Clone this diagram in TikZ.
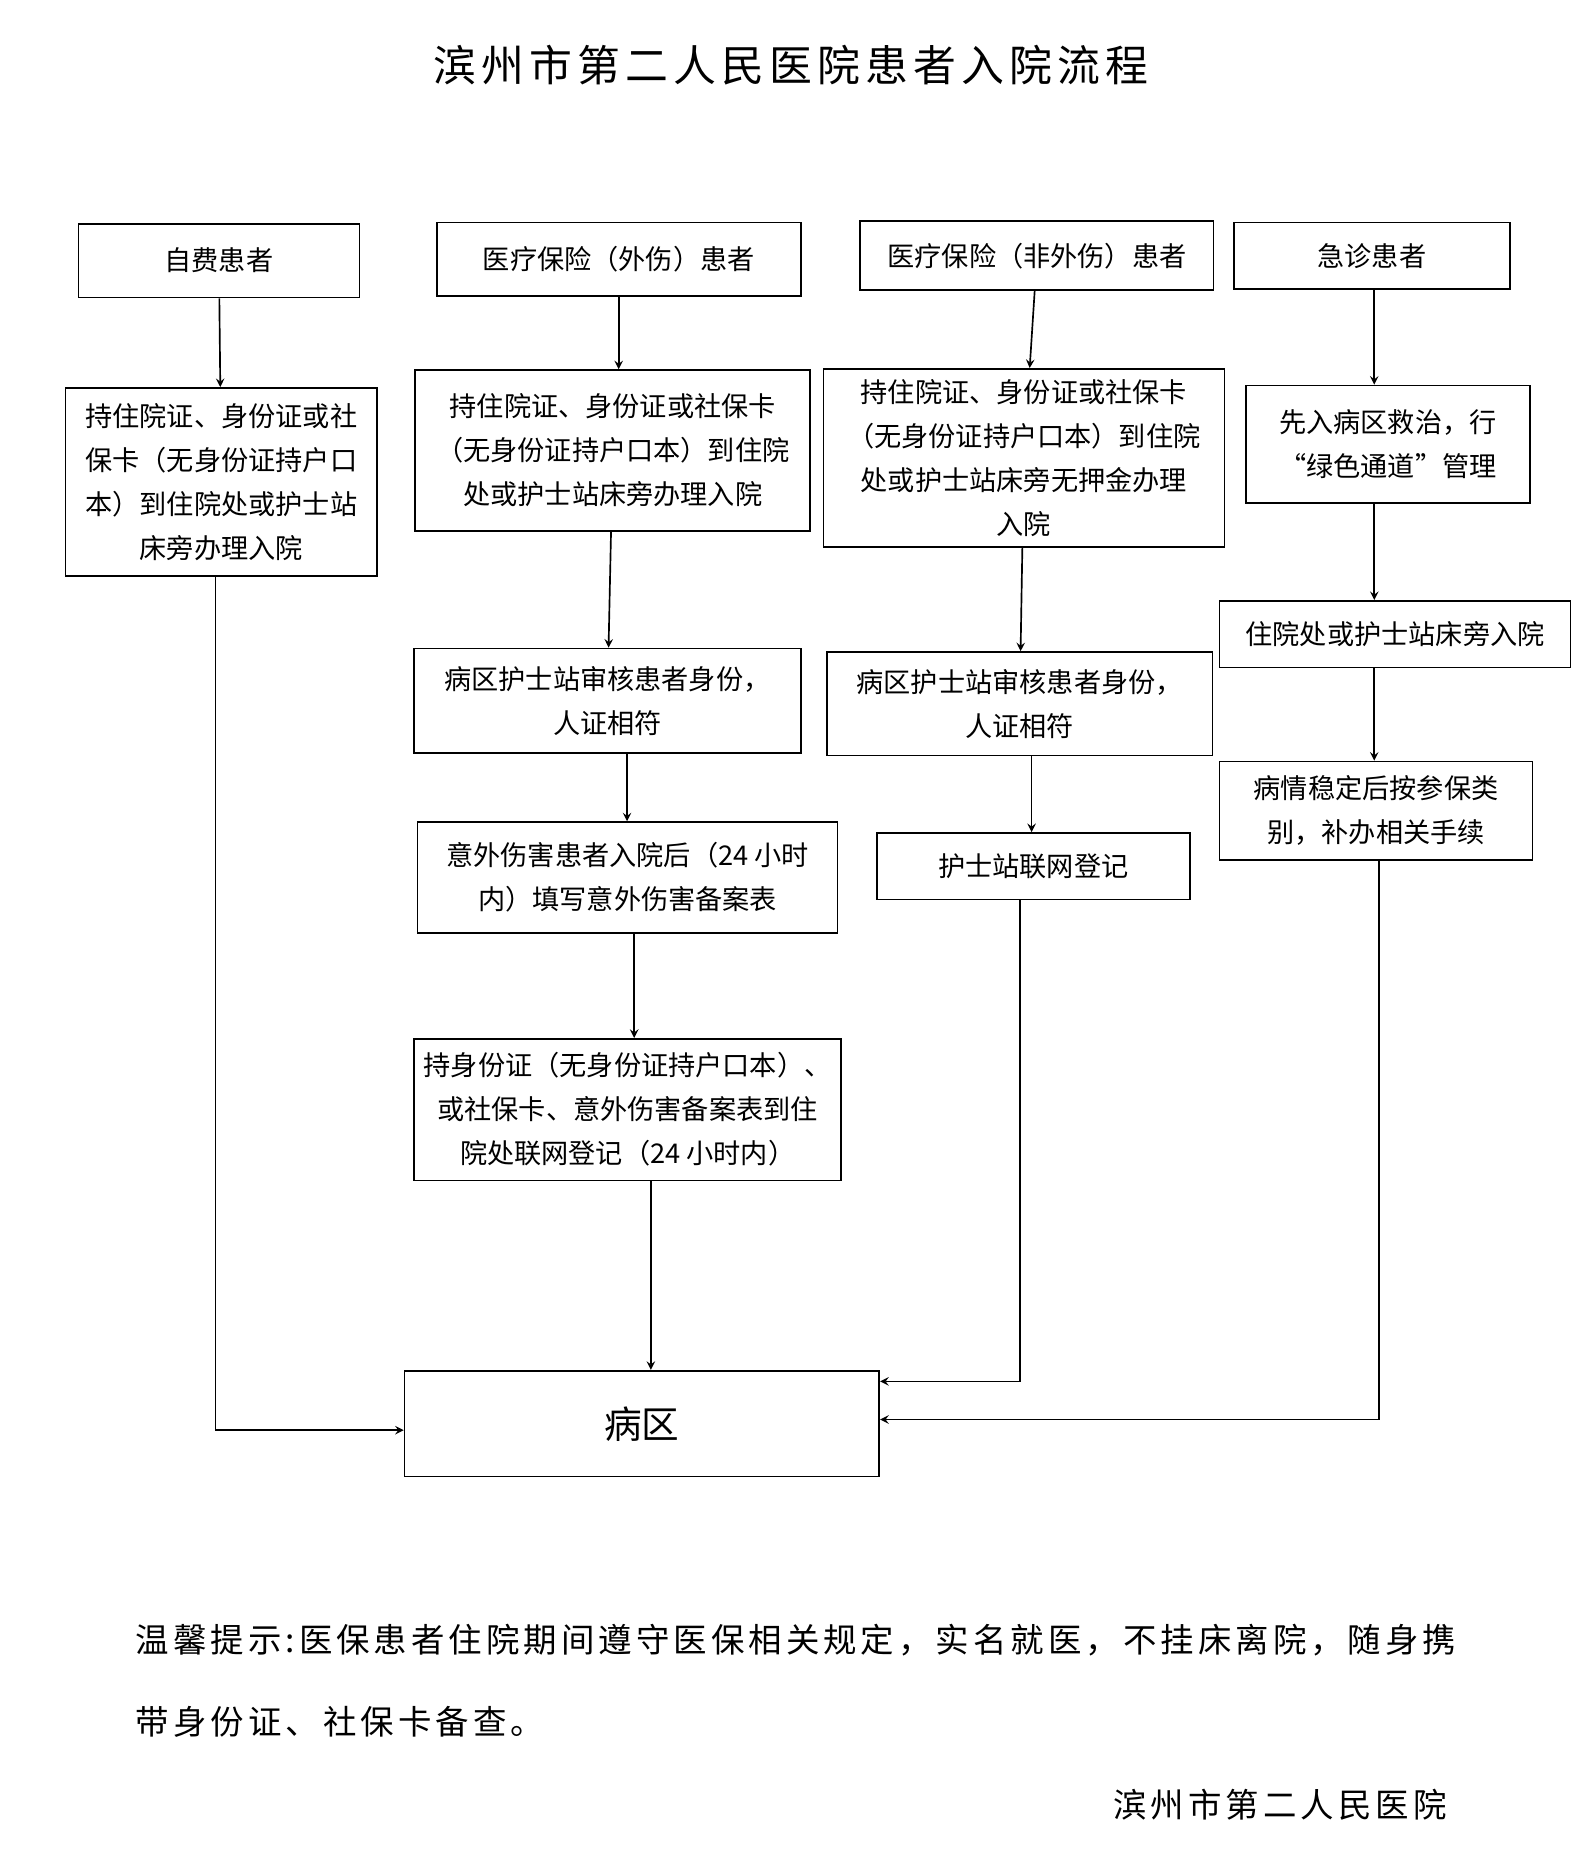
\documentclass[tikz,border=0pt]{standalone}
\usepackage{fontspec}
\setmainfont{Noto Sans CJK SC}
\usetikzlibrary{positioning}
\tikzset{
  stepbox/.style={draw, thick, align=center, inner sep=0pt, font=\fontsize{13}{21}\selectfont},
  flow/.style={thick, ->, >=stealth},
  notetext/.style={font=\fontsize{16}{20}\selectfont\addfontfeature{LetterSpace=12}}
}
\newcommand{\boxat}[6]{% name, x1, y1, x2, y2, text
  \node[stepbox, minimum width={(#4-#2)*0.02cm}, minimum height={(#5-#3)*0.02cm}]
    (#1) at ({(#2+#4)/2}, {(#3+#5)/2}) {#6};}
\begin{document}
\begin{tikzpicture}[x=0.02cm, y=-0.02cm]
  \useasboundingbox (0,0) rectangle (1334,1575);
  % title
  \node (title) at (665,55) {\fontsize{20.5}{24}\selectfont\addfontfeature{LetterSpace=12}滨州市第二人民医院患者入院流程};

  % first row
  \boxat{a1}{66}{188}{302}{250}{自费患者}
  \boxat{b1}{367}{187}{673}{249}{医疗保险（外伤）患者}
  \boxat{c1}{723}{186}{1020}{244}{医疗保险（非外伤）患者}
  \boxat{d1}{1037}{187}{1269}{243}{急诊患者}

  % second row
  \boxat{a2}{55}{326}{317}{484}{持住院证、身份证或社\\保卡（无身份证持户口\\本）到住院处或护士站\\床旁办理入院}
  \boxat{b2}{349}{311}{681}{446}{持住院证、身份证或社保卡\\（无身份证持户口本）到住院\\处或护士站床旁办理入院}
  \boxat{c2}{692}{310}{1029}{460}{持住院证、身份证或社保卡\\（无身份证持户口本）到住院\\处或护士站床旁无押金办理\\入院}
  \boxat{d2}{1047}{324}{1286}{423}{先入病区救治，行\\“绿色通道”管理}

  % further steps
  \boxat{d3}{1025}{505}{1320}{561}{住院处或护士站床旁入院}
  \boxat{b3}{348}{545}{673}{633}{病区护士站审核患者身份，\\人证相符}
  \boxat{c3}{695}{548}{1019}{635}{病区护士站审核患者身份，\\人证相符}
  \boxat{d4}{1025}{640}{1288}{723}{病情稳定后按参保类\\别，补办相关手续}
  \boxat{b4}{351}{691}{704}{784}{意外伤害患者入院后（24 小时\\内）填写意外伤害备案表}
  \boxat{c4}{737}{700}{1000}{756}{护士站联网登记}
  \boxat{b5}{348}{873}{707}{992}{持身份证（无身份证持户口本）、\\或社保卡、意外伤害备案表到住\\院处联网登记（24 小时内）}

  % ward
  \node[stepbox, minimum width={399*0.02cm}, minimum height={89*0.02cm}, font=\fontsize{18}{22}\selectfont]
    (ward) at (539.5,1196.5) {病区};

  % arrows
  \draw[flow] (a1) -- (a2);
  \draw[flow] (b1.south) -- (b2.north -| b1.south);
  \draw[flow] (c1) -- (c2);
  \draw[flow] (d1.south -| 1155,0) -- (d2.north -| 1155,0);
  \draw[flow] (d2.south -| 1155,0) -- (d3.north -| 1155,0);
  \draw[flow] (d3.south -| 1155,0) -- (d4.north -| 1155,0);
  \draw[flow] (b2) -- (b3);
  \draw[flow] (c2) -- (c3);
  \draw[flow] (b3.south -| 527,0) -- (b4.north -| 527,0);
  \draw[flow] (c3.south -| 867,0) -- (c4.north -| 867,0);
  \draw[flow] (b4.south -| 533,0) -- (b5.north -| 533,0);
  \draw[flow] (b5.south -| 547,0) -- (ward.north -| 547,0);

  \coordinate (aturn) at (181,1202);
  \coordinate (cturn) at (857,1161);
  \coordinate (dturn) at (1159,1193);
  \draw[flow] (a2.south -| aturn) -- (aturn) -- (ward.west |- aturn);
  \draw[flow] (c4.south -| cturn) -- (cturn) -- (ward.east |- cturn);
  \draw[flow] (d4.south -| dturn) -- (dturn) -- (ward.east |- dturn);

  % notes
  \node[anchor=west, notetext] (note1) at (108,1378)
    {温馨提示:医保患者住院期间遵守医保相关规定，实名就医，不挂床离院，随身携};
  \node[anchor=west, notetext] (note2) at (108,1447)
    {带身份证、社保卡备查。};
  \node[anchor=east, notetext] (sign) at (1222,1517)
    {滨州市第二人民医院};
\end{tikzpicture}
\end{document}
